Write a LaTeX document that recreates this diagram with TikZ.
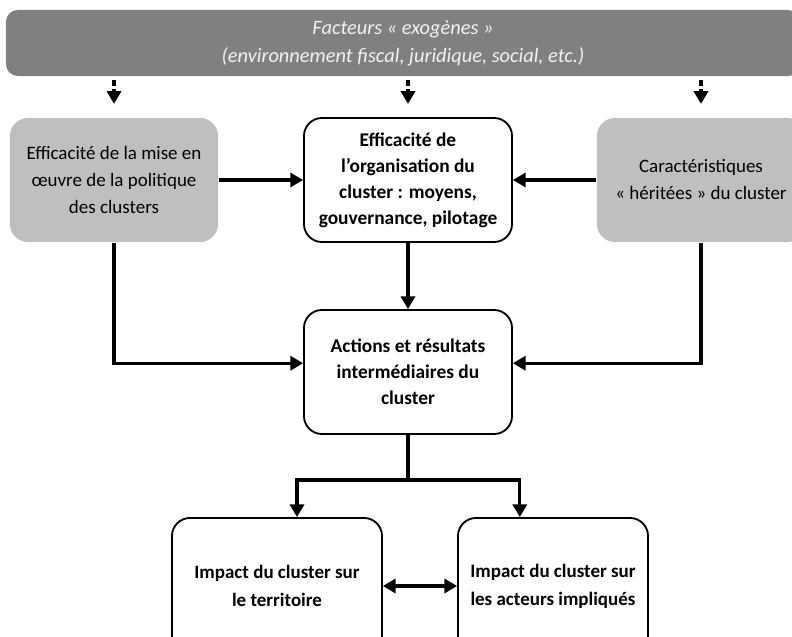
\documentclass[tikz,border=0pt]{standalone}
\usepackage{fontspec}
\setmainfont{Carlito}
\usetikzlibrary{arrows.meta}
\definecolor{bandgray}{HTML}{808080}
\definecolor{boxgray}{HTML}{BFBFBF}
\definecolor{bandtext}{HTML}{F2F2F2}

\tikzset{
  box/.style={draw, line width=1.3pt, rounded corners=0.45cm, minimum width=5.2cm,
    minimum height=3.1cm, align=center, font=\fontsize{13.8}{18.5}\selectfont\bfseries},
  graybox/.style={box, draw=none, fill=boxgray, font=\fontsize{13.5}{19.2}\selectfont},
  band/.style={fill=bandgray, rounded corners=0.3cm, minimum width=19.85cm,
    minimum height=1.65cm, align=center, text=bandtext, font=\fontsize{14.5}{19.8}\selectfont\itshape},
  link/.style={line width=2.2pt, -{Triangle[length=9pt,width=10pt]}},
  dashlink/.style={link, dash pattern=on 4pt off 2.5pt, shorten <=0.1cm, shorten >=0.33cm}
}

\begin{document}
\begin{tikzpicture}[x=0.025cm, y=-0.025cm]
\useasboundingbox (0,0) rectangle (792,637);
\clip (0,0) rectangle (792,637);

% bandeau du haut
\node[band] (exo) at (403,43) {Facteurs « exogènes »\\(environnement fiscal, juridique, social, etc.)};

% premier rang
\node[graybox] (pol) at (114,180) {Efficacité de la mise en\\œuvre de la politique\\des clusters};
\node[box] (org) at (408,180) {Efficacité de\\l’organisation du\\cluster : moyens,\\gouvernance, pilotage};
\node[graybox] (her) at (701,180) {Caractéristiques\\« héritées » du cluster};

% milieu
\node[box] (act) at (408,372) {Actions et résultats\\intermédiaires du\\cluster};

% impacts
\node[box, minimum width=5.25cm, minimum height=3.4cm, font=\fontsize{13.5}{20}\selectfont\bfseries] (ter) at (277,586) {Impact du cluster sur\\le territoire};
\node[box, minimum width=4.75cm, minimum height=3.4cm, font=\fontsize{13.5}{20}\selectfont\bfseries] (acteurs) at (553,586) {Impact du cluster sur\\les acteurs impliqués};

\foreach \b in {pol,org,her}
  \draw[dashlink] (exo.south -| \b.north) -- (\b.north);

\draw[link] (pol) -- (org);
\draw[link] (her) -- (org);
\draw[link] (org) -- (act);
\draw[link] (pol.south) |- ([yshift=0.22cm]act.west);
\draw[link] (her.south) |- ([yshift=0.22cm]act.east);

\coordinate (fork) at (408,480);
\draw[line width=2.2pt] (act) -- (fork);
\draw[link] (fork) -| ([xshift=0.5cm]ter.north);
\draw[link] (fork) -| ([xshift=-0.83cm]acteurs.north);
\draw[link, {Triangle[length=9pt,width=10pt]}-{Triangle[length=9pt,width=10pt]}] (ter) -- (acteurs);
\end{tikzpicture}
\end{document}
